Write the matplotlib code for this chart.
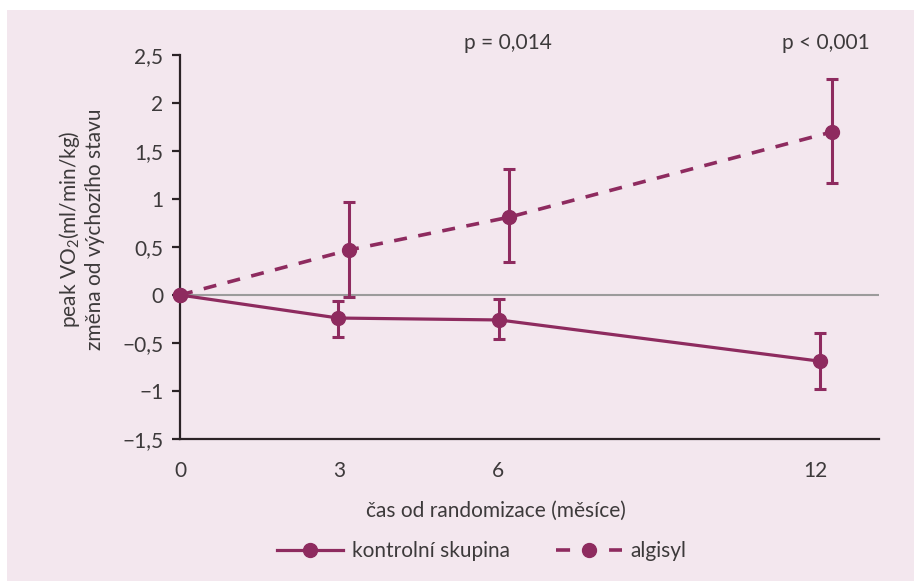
import matplotlib.pyplot as plt
from matplotlib.lines import Line2D
from matplotlib.patches import Rectangle

# data (x = plotted position in months, slightly offset per group)
months = [0, 3, 6, 12]
x_kontrol = [0, 2.99, 6.03, 12.09]
x_algisyl = [0, 3.20, 6.21, 12.32]

kontrol = [0, -0.24, -0.26, -0.69]
kontrol_lo = [0, 0.20, 0.20, 0.29]
kontrol_hi = [0, 0.18, 0.22, 0.29]

algisyl = [0, 0.47, 0.81, 1.70]
algisyl_lo = [0, 0.49, 0.47, 0.53]
algisyl_hi = [0, 0.50, 0.50, 0.55]

p_labels = ["p = 0,014", "p < 0,001"]
p_x = [6.2, 12.2]

yticks = [-1.5, -1, -0.5, 0, 0.5, 1, 1.5, 2, 2.5]

COLOR = "#8e2b5f"
BG = "#f3e7ee"
TXT = "#3d3a3b"
FS = 15
DASH = (0, (3.6, 3.2))

plt.rcParams["font.family"] = ["Lato", "DejaVu Sans"]
plt.rcParams["mathtext.fontset"] = "custom"
plt.rcParams["mathtext.rm"] = "Lato"
plt.rcParams["mathtext.it"] = "Lato"

fig = plt.figure(figsize=(9.14, 5.81), dpi=100)
fig.patch.set_facecolor("white")
fig.patches.append(Rectangle((7 / 914, 0), 1, 1 - 10 / 581, transform=fig.transFigure,
                             facecolor=BG, edgecolor="none", zorder=-10))

ax = fig.add_axes([180 / 914, 1 - 439 / 581, (879 - 180) / 914, (439 - 55) / 581])
ax.set_facecolor("none")

ax.axhline(0, color="#9b9b9b", lw=1.5, zorder=1)

ax.errorbar(x_kontrol, kontrol, yerr=[kontrol_lo, kontrol_hi], color=COLOR, lw=2.3,
            marker="o", ms=10, elinewidth=2.2, capsize=4.5, capthick=2.2,
            zorder=3, clip_on=False)
ax.errorbar(x_algisyl, algisyl, yerr=[algisyl_lo, algisyl_hi], color=COLOR, lw=2.6,
            ls=DASH, marker="o", ms=10, elinewidth=2.2, capsize=4.5,
            capthick=2.2, zorder=3, clip_on=False)

for x, t in zip(p_x, p_labels):
    ax.text(x, 2.52, t, ha="center", va="bottom", fontsize=FS, color=TXT)

ax.set_xlim(0, 13.2)
ax.set_ylim(-1.5, 2.5)
ax.set_xticks(months)
ax.set_xticklabels([str(m) for m in months])
ax.set_yticks(yticks)
ax.set_yticklabels([("%g" % v).replace(".", ",").replace("-", "\u2212") for v in yticks])

for s in ["top", "right"]:
    ax.spines[s].set_visible(False)
for s in ["left", "bottom"]:
    ax.spines[s].set_linewidth(1.6)
    ax.spines[s].set_color("#2b2326")
ax.tick_params(axis="y", length=6, width=1.6, color="#2b2326", labelsize=FS,
               labelcolor=TXT, pad=6)
ax.tick_params(axis="x", length=0, labelsize=FS, labelcolor=TXT, pad=16)

ax.set_xlabel("čas od randomizace (měsíce)", fontsize=FS, color=TXT)
ax.xaxis.set_label_coords(0.452, -0.16)
ax.set_ylabel("peak VO$_2$(ml/min/kg)\nzměna od výchozího stavu", fontsize=FS,
              color=TXT, linespacing=1.15)
ax.yaxis.set_label_coords(-0.108, 0.545)

handles = [
    Line2D([], [], color=COLOR, lw=2.3, marker="o", ms=10),
    Line2D([], [], color=COLOR, lw=2.6, ls=(0, (3.9, 10.8)), marker="o", ms=10),
]
fig.legend(handles, ["kontrolní skupina", "algisyl"], loc="center",
           bbox_to_anchor=(0.527, 1 - 551 / 581), ncol=2, frameon=False,
           fontsize=FS, labelcolor=TXT, handlelength=3.2, columnspacing=2.2,
           handletextpad=0.4)

fig.savefig("out.png", dpi=100)
